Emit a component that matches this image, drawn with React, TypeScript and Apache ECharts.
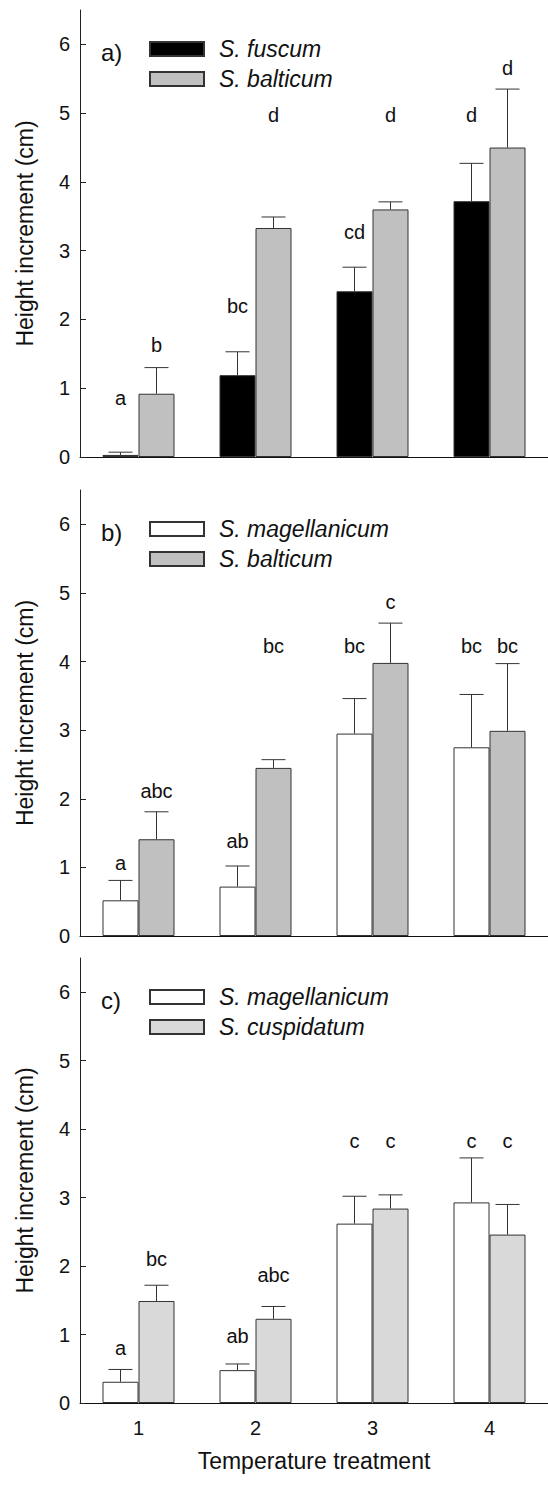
import React, { useEffect, useRef } from "react";
import * as echarts from "echarts";

const categories = ["1", "2", "3", "4"];
const yTicks = [0, 1, 2, 3, 4, 5, 6];

// Panel a
const fuscumA = [0.03, 1.19, 2.41, 3.72];
const fuscumAErr = [0.04, 0.34, 0.35, 0.55];
const balticumA = [0.92, 3.33, 3.6, 4.5];
const balticumAErr = [0.38, 0.16, 0.11, 0.85];
const fuscumALetters = ["a", "bc", "cd", "d"];
const fuscumALetterY = [0.86, 2.2, 3.27, 4.97];
const balticumALetters = ["b", "d", "d", "d"];
const balticumALetterY = [1.63, 4.97, 4.97, 5.65];

// Panel b
const magellanicumB = [0.52, 0.72, 2.95, 2.75];
const magellanicumBErr = [0.29, 0.3, 0.51, 0.77];
const balticumB = [1.41, 2.45, 3.98, 2.99];
const balticumBErr = [0.4, 0.12, 0.58, 0.98];
const magellanicumBLetters = ["a", "ab", "bc", "bc"];
const magellanicumBLetterY = [1.06, 1.38, 4.22, 4.22];
const balticumBLetters = ["abc", "bc", "c", "bc"];
const balticumBLetterY = [2.11, 4.22, 4.87, 4.22];

// Panel c
const magellanicumC = [0.31, 0.48, 2.62, 2.93];
const magellanicumCErr = [0.18, 0.09, 0.4, 0.65];
const cuspidatumC = [1.49, 1.23, 2.84, 2.46];
const cuspidatumCErr = [0.23, 0.18, 0.2, 0.44];
const magellanicumCLetters = ["a", "ab", "c", "c"];
const magellanicumCLetterY = [0.8, 0.98, 3.82, 3.82];
const cuspidatumCLetters = ["bc", "abc", "c", "c"];
const cuspidatumCLetterY = [2.11, 1.87, 3.82, 3.82];

const FONT = "Liberation Sans, Arial, Helvetica, sans-serif";
const BAR_W = 36;

type Sp = {
  name: string;
  color: string;
  values: number[];
  err: number[];
  letters: string[];
  letterY: number[];
};

const panels: { label: string; top: number; height: number; species: Sp[] }[] = [
  {
    label: "a)",
    top: 10,
    height: 447,
    species: [
      { name: "S. fuscum", color: "#000000", values: fuscumA, err: fuscumAErr, letters: fuscumALetters, letterY: fuscumALetterY },
      { name: "S. balticum", color: "#c0c0c0", values: balticumA, err: balticumAErr, letters: balticumALetters, letterY: balticumALetterY },
    ],
  },
  {
    label: "b)",
    top: 490,
    height: 446,
    species: [
      { name: "S. magellanicum", color: "#ffffff", values: magellanicumB, err: magellanicumBErr, letters: magellanicumBLetters, letterY: magellanicumBLetterY },
      { name: "S. balticum", color: "#c0c0c0", values: balticumB, err: balticumBErr, letters: balticumBLetters, letterY: balticumBLetterY },
    ],
  },
  {
    label: "c)",
    top: 958,
    height: 445,
    species: [
      { name: "S. magellanicum", color: "#ffffff", values: magellanicumC, err: magellanicumCErr, letters: magellanicumCLetters, letterY: magellanicumCLetterY },
      { name: "S. cuspidatum", color: "#d9d9d9", values: cuspidatumC, err: cuspidatumCErr, letters: cuspidatumCLetters, letterY: cuspidatumCLetterY },
    ],
  },
];

function buildOption() {
  const grid: any[] = [];
  const xAxis: any[] = [];
  const yAxis: any[] = [];
  const series: any[] = [];
  const legend: any[] = [];
  const graphic: any[] = [];

  panels.forEach((p, pi) => {
    const isLast = pi === panels.length - 1;
    grid.push({ left: 80, right: -8, top: p.top, height: p.height, containLabel: false });
    xAxis.push({
      type: "category",
      gridIndex: pi,
      data: categories,
      axisLine: { show: true, lineStyle: { color: "#111", width: 1 } },
      axisTick: { show: false },
      axisLabel: { show: isLast, fontSize: 20, color: "#111", margin: 15, fontFamily: FONT },
      name: isLast ? "Temperature treatment" : "",
      nameLocation: "middle",
      nameGap: 46,
      nameTextStyle: { fontSize: 23, color: "#111", fontFamily: FONT },
      splitLine: { show: false },
    });
    yAxis.push({
      type: "value",
      gridIndex: pi,
      min: 0,
      max: 6.5,
      interval: 1,
      axisLine: { show: true, lineStyle: { color: "#222", width: 1 } },
      axisTick: { show: true, inside: true, length: 6, lineStyle: { color: "#222" }, customValues: yTicks },
      axisLabel: { fontSize: 20, color: "#111", margin: 10, fontFamily: FONT, customValues: yTicks },
      splitLine: { show: false },
      name: "Height increment (cm)",
      nameLocation: "middle",
      nameRotate: 90,
      nameGap: 44,
      nameTextStyle: { fontSize: 23, color: "#111", fontFamily: FONT },
    });

    p.species.forEach((sp, si) => {
      series.push({
        type: "bar",
        name: sp.name,
        xAxisIndex: pi,
        yAxisIndex: pi,
        data: sp.values,
        barWidth: BAR_W,
        barGap: "0%",
        itemStyle: { color: sp.color, borderColor: "#333", borderWidth: 1 },
        emphasis: { disabled: true },
        z: 2,
      });
      const side = si === 0 ? -1 : 1;
      series.push({
        type: "custom",
        name: sp.name + " SE",
        xAxisIndex: pi,
        yAxisIndex: pi,
        data: sp.values.map((v, i) => [i, v, v + sp.err[i]]),
        z: 3,
        silent: true,
        renderItem: (params: any, api: any) => {
          const c0 = api.coord([api.value(0), api.value(1)]);
          const c1 = api.coord([api.value(0), api.value(2)]);
          const x = c0[0] + (side * BAR_W) / 2;
          const st = { stroke: "#333", lineWidth: 1 };
          return {
            type: "group",
            children: [
              { type: "line", shape: { x1: x, y1: c0[1], x2: x, y2: c1[1] }, style: st },
              { type: "line", shape: { x1: x - 12, y1: c1[1], x2: x + 12, y2: c1[1] }, style: st },
            ],
          };
        },
      });
      series.push({
        type: "custom",
        name: sp.name + " letters",
        xAxisIndex: pi,
        yAxisIndex: pi,
        data: sp.letterY.map((y, i) => [i, y]),
        z: 4,
        silent: true,
        renderItem: (params: any, api: any) => {
          const c = api.coord([api.value(0), api.value(1)]);
          const x = c[0] + (side * BAR_W) / 2;
          return {
            type: "text",
            x,
            y: c[1],
            style: {
              text: sp.letters[params.dataIndex],
              align: "center",
              verticalAlign: "middle",
              textAlign: "center",
              textVerticalAlign: "middle",
              fontSize: 20,
              fontFamily: FONT,
              fill: "#111",
            },
          };
        },
      });
    });

    legend.push({
      orient: "vertical",
      left: 144,
      top: p.top + 22.5,
      itemWidth: 54,
      itemHeight: 14,
      itemGap: 7,
      icon: "rect",
      selectedMode: false,
      data: p.species.map((s) => s.name),
      textStyle: {
        fontSize: 23,
        fontStyle: "italic",
        color: "#111",
        fontFamily: FONT,
        padding: [0, 0, 0, 10],
      },
    });

    graphic.push({
      type: "text",
      left: 101,
      top: p.top + 30,
      style: { text: p.label, fontSize: 24, fontFamily: FONT, fill: "#111" },
    });
  });

  return {
    animation: false,
    backgroundColor: "#ffffff",
    textStyle: { fontFamily: FONT },
    grid,
    xAxis,
    yAxis,
    series,
    legend,
    graphic,
  };
}

export default function App() {
  const ref = useRef<HTMLDivElement>(null);
  useEffect(() => {
    if (!ref.current) return;
    const chart = echarts.init(ref.current, undefined, { renderer: "svg" });
    chart.setOption(buildOption() as any);
    return () => chart.dispose();
  }, []);
  return (
    <div
      ref={ref}
      style={{ position: "absolute", left: 0, top: 0, width: 548, height: 1486, background: "#fff" }}
    />
  );
}
